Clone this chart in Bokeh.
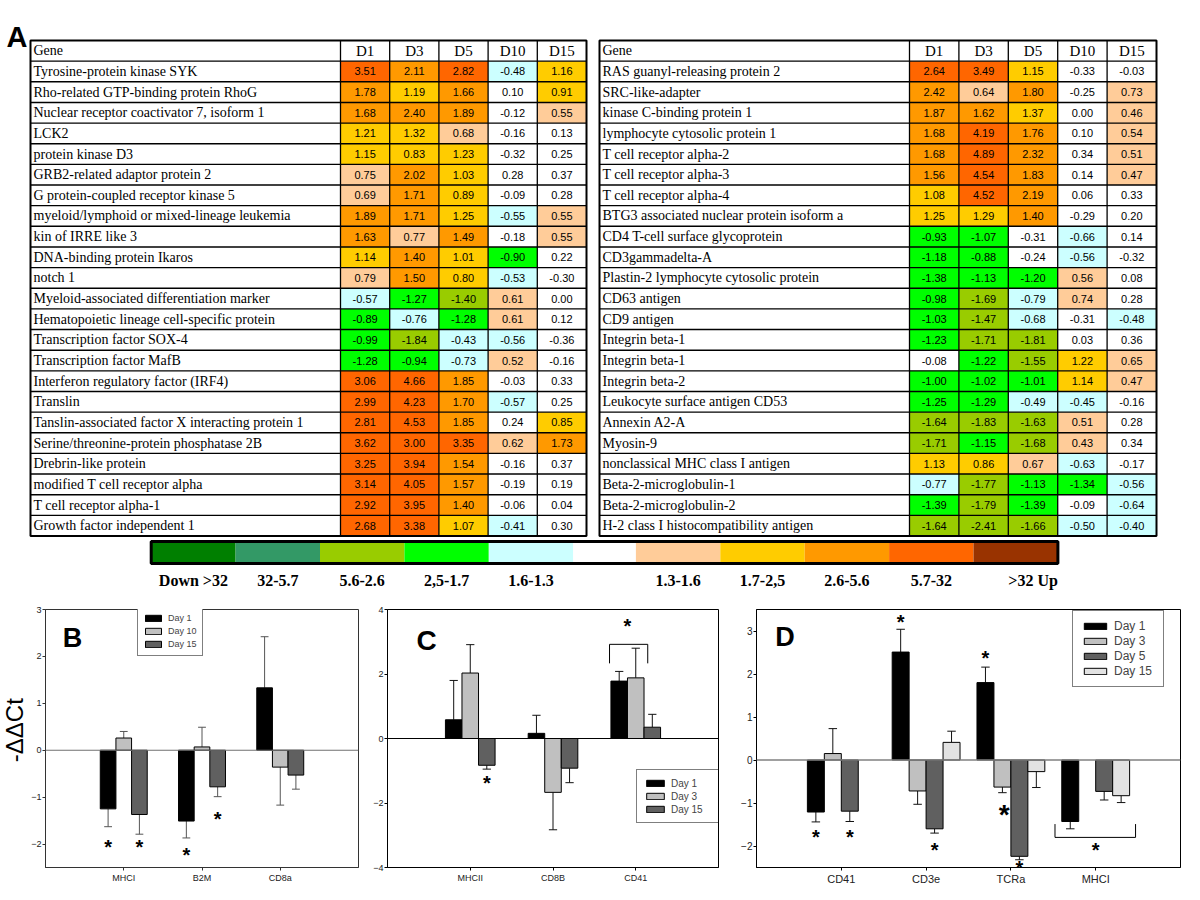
import math
from bokeh.plotting import figure
from bokeh.models import (Range1d, ColumnDataSource, FixedTicker, Span, Legend,
                          LegendItem, Label)
from bokeh.layouts import column, row
from bokeh.embed import file_html
from bokeh.resources import INLINE
from bokeh.core.properties import value

# ---------------- Panel A data ----------------
days_a = ["D1", "D3", "D5", "D10", "D15"]

genes_left = [
    "Tyrosine-protein kinase SYK",
    "Rho-related GTP-binding protein RhoG",
    "Nuclear receptor coactivator 7, isoform 1",
    "LCK2",
    "protein kinase D3",
    "GRB2-related adaptor protein 2",
    "G protein-coupled receptor kinase 5",
    "myeloid/lymphoid or mixed-lineage leukemia",
    "kin of IRRE like 3",
    "DNA-binding protein Ikaros",
    "notch 1",
    "Myeloid-associated differentiation marker",
    "Hematopoietic lineage cell-specific protein",
    "Transcription factor SOX-4",
    "Transcription factor MafB",
    "Interferon regulatory factor (IRF4)",
    "Translin",
    "Tanslin-associated factor X interacting protein 1",
    "Serine/threonine-protein phosphatase 2B",
    "Drebrin-like protein",
    "modified T cell receptor alpha",
    "T cell receptor alpha-1",
    "Growth factor independent 1",
]
d1_left = [3.51, 1.78, 1.68, 1.21, 1.15, 0.75, 0.69, 1.89, 1.63, 1.14, 0.79, -0.57,
           -0.89, -0.99, -1.28, 3.06, 2.99, 2.81, 3.62, 3.25, 3.14, 2.92, 2.68]
d3_left = [2.11, 1.19, 2.40, 1.32, 0.83, 2.02, 1.71, 1.71, 0.77, 1.40, 1.50, -1.27,
           -0.76, -1.84, -0.94, 4.66, 4.23, 4.53, 3.00, 3.94, 4.05, 3.95, 3.38]
d5_left = [2.82, 1.66, 1.89, 0.68, 1.23, 1.03, 0.89, 1.25, 1.49, 1.01, 0.80, -1.40,
           -1.28, -0.43, -0.73, 1.85, 1.70, 1.85, 3.35, 1.54, 1.57, 1.40, 1.07]
d10_left = [-0.48, 0.10, -0.12, -0.16, -0.32, 0.28, -0.09, -0.55, -0.18, -0.90, -0.53, 0.61,
            0.61, -0.56, 0.52, -0.03, -0.57, 0.24, 0.62, -0.16, -0.19, -0.06, -0.41]
d15_left = [1.16, 0.91, 0.55, 0.13, 0.25, 0.37, 0.28, 0.55, 0.55, 0.22, -0.30, 0.00,
            0.12, -0.36, -0.16, 0.33, 0.25, 0.85, 1.73, 0.37, 0.19, 0.04, 0.30]

genes_right = [
    "RAS guanyl-releasing protein 2",
    "SRC-like-adapter",
    "kinase C-binding protein 1",
    "lymphocyte cytosolic protein 1",
    "T cell receptor alpha-2",
    "T cell receptor alpha-3",
    "T cell receptor alpha-4",
    "BTG3 associated nuclear protein isoform a",
    "CD4 T-cell surface glycoprotein",
    "CD3gammadelta-A",
    "Plastin-2 lymphocyte cytosolic protein",
    "CD63 antigen",
    "CD9 antigen",
    "Integrin beta-1",
    "Integrin beta-1",
    "Integrin beta-2",
    "Leukocyte surface antigen CD53",
    "Annexin A2-A",
    "Myosin-9",
    "nonclassical MHC class I antigen",
    "Beta-2-microglobulin-1",
    "Beta-2-microglobulin-2",
    "H-2 class I histocompatibility antigen",
]
d1_right = [2.64, 2.42, 1.87, 1.68, 1.68, 1.56, 1.08, 1.25, -0.93, -1.18, -1.38, -0.98,
            -1.03, -1.23, -0.08, -1.00, -1.25, -1.64, -1.71, 1.13, -0.77, -1.39, -1.64]
d3_right = [3.49, 0.64, 1.62, 4.19, 4.89, 4.54, 4.52, 1.29, -1.07, -0.88, -1.13, -1.69,
            -1.47, -1.71, -1.22, -1.02, -1.29, -1.83, -1.15, 0.86, -1.77, -1.79, -2.41]
d5_right = [1.15, 1.80, 1.37, 1.76, 2.32, 1.83, 2.19, 1.40, -0.31, -0.24, -1.20, -0.79,
            -0.68, -1.81, -1.55, -1.01, -0.49, -1.63, -1.68, 0.67, -1.13, -1.39, -1.66]
d10_right = [-0.33, -0.25, 0.00, 0.10, 0.34, 0.14, 0.06, -0.29, -0.66, -0.56, 0.56, 0.74,
             -0.31, 0.03, 1.22, 1.14, -0.45, 0.51, 0.43, -0.63, -1.34, -0.09, -0.50]
d15_right = [-0.03, 0.73, 0.46, 0.54, 0.51, 0.47, 0.33, 0.20, 0.14, -0.32, 0.08, 0.28,
             -0.48, 0.36, 0.65, 0.47, -0.16, 0.28, 0.34, -0.17, -0.56, -0.64, -0.40]

legend_labels = ["Down >32", "32-5.7", "5.6-2.6", "2,5-1.7", "1.6-1.3", "",
                 "1.3-1.6", "1.7-2,5", "2.6-5.6", "5.7-32", ">32 Up"]
legend_colors = ["#007F00", "#339966", "#99CC00", "#00FF00", "#CCFFFF", "#FFFFFF",
                 "#FFCC99", "#FFCC00", "#FF9900", "#FF6600", "#993300"]

# ---------------- Panel B data ----------------
cats_b = ["MHCI", "B2M", "CD8a"]
days_b = ["Day 1", "Day 10", "Day 15"]
day1_b = [-1.25, -1.51, 1.33]
day10_b = [0.26, 0.07, -0.36]
day15_b = [-1.37, -0.78, -0.53]
err1_b = [0.38, 0.36, 1.09]
err10_b = [0.14, 0.42, 0.81]
err15_b = [0.42, 0.21, 0.30]
star_cat_b = [0, 0, 1, 1]
star_day_b = [0, 2, 0, 2]
star_y_b = [-2.0, -2.0, -2.18, -1.41]

# ---------------- Panel C data ----------------
cats_c = ["MHCII", "CD8B", "CD41"]
days_c = ["Day 1", "Day 3", "Day 15"]
day1_c = [0.58, 0.16, 1.78]
day3_c = [2.03, -1.67, 1.88]
day15_c = [-0.83, -0.92, 0.35]
err1_c = [1.22, 0.56, 0.30]
err3_c = [0.88, 1.16, 0.92]
err15_c = [0.12, 0.45, 0.40]
star_cat_c = [0, 2]
star_off_c = [0.2, -0.1]
star_y_c = [-1.3, 3.58]
bracket_c = dict(cat=2, x_from=-0.317, x_to=0.145, y_bar=2.92, y_end=2.33)

# ---------------- Panel D data ----------------
nan = float("nan")
cats_d = ["CD41", "CD3e", "TCRa", "MHCI"]
days_d = ["Day 1", "Day 3", "Day 5", "Day 15"]
day1_d = [-1.21, 2.51, 1.80, -1.43]
day3_d = [0.15, -0.72, -0.63, nan]
day5_d = [-1.19, -1.60, -2.24, -0.73]
day15_d = [nan, 0.41, -0.27, -0.83]
err1_d = [0.23, 0.53, 0.36, 0.17]
err3_d = [0.58, 0.31, 0.13, nan]
err5_d = [0.24, 0.10, 0.08, 0.20]
err15_d = [nan, 0.26, 0.37, 0.16]
star_cat_d = [0, 0, 1, 1, 2, 2, 3]
star_off_d = [-0.3, 0.1, -0.3, 0.1, -0.3, 0.1, 0.0]
star_y_d = [-1.72, -1.72, 3.28, -2.03, 2.43, -2.45, -2.03]
bigstar_d = dict(cat=2, off=-0.08, y=-1.18)
bracket_d = dict(cat=3, x_from=-0.48, x_to=0.47, y_bar=-1.8, y_end=-1.49)

SANS = "Liberation Sans"
SERIF = "Liberation Serif"


def cell_color(v):
    a = abs(v)
    if a < 0.38:
        return "#FFFFFF"
    if v > 0:
        if a < 0.795:
            return "#FFCC99"
        if a < 1.395:
            return "#FFCC00"
        if a < 2.51:
            return "#FF9900"
        if a < 5.0:
            return "#FF6600"
        return "#993300"
    if a < 0.795:
        return "#CCFFFF"
    if a < 1.395:
        return "#00FF00"
    if a < 2.51:
        return "#99CC00"
    if a < 5.0:
        return "#339966"
    return "#007F00"


# ---------------- Top figure (panel A) ----------------
top = figure(width=1200, height=590, x_range=Range1d(0, 1200), y_range=Range1d(590, 0),
             output_backend="svg", toolbar_location=None, min_border=0, title=None,
             x_axis_location=None, y_axis_location=None)
top.grid.visible = False
top.outline_line_color = None
top.background_fill_color = "white"
top.border_fill_color = "white"

ROW_TOP = 40.0
ROW_H = 495.5 / 24
GENE_W = 310.0


def draw_table(p, x0, col_w, genes, cols):
    n = len(genes)
    xs, ys, cs, ts = [], [], [], []
    for j, col in enumerate(cols):
        for i, v in enumerate(col):
            xs.append(x0 + GENE_W + (j + 0.5) * col_w)
            ys.append(ROW_TOP + (i + 1.5) * ROW_H)
            cs.append(cell_color(v))
            ts.append(f"{v:.2f}")
    src = ColumnDataSource(dict(x=xs, y=ys, c=cs, t=ts))
    p.rect(x="x", y="y", width=col_w, height=ROW_H, fill_color="c", line_color=None, source=src)
    p.text(x="x", y="y", text="t", source=src, text_font=value(SANS), text_font_size="11px",
           text_align="center", text_baseline="middle", text_color="black")
    gy = [ROW_TOP + (i + 1.5) * ROW_H for i in range(n)]
    p.text(x=[x0 + 3] * n, y=gy, text=genes, text_font=value(SERIF), text_font_size="14px",
           text_align="left", text_baseline="middle", text_color="black")
    hy = ROW_TOP + 0.5 * ROW_H
    p.text(x=[x0 + 3], y=[hy], text=["Gene"], text_font=value(SERIF), text_font_size="14px",
           text_align="left", text_baseline="middle", text_color="black")
    p.text(x=[x0 + GENE_W + (j + 0.5) * col_w for j in range(len(days_a))], y=[hy] * len(days_a),
           text=days_a, text_font=value(SERIF), text_font_size="15px",
           text_align="center", text_baseline="middle", text_color="black")
    x1 = x0 + GENE_W + len(cols) * col_w
    y1 = ROW_TOP + (n + 1) * ROW_H
    lines_y = [ROW_TOP + k * ROW_H for k in range(1, n + 1)]
    p.segment(x0=[x0] * len(lines_y), y0=lines_y, x1=[x1] * len(lines_y), y1=lines_y,
              line_color="black", line_width=1.4)
    lines_x = [x0 + GENE_W + j * col_w for j in range(len(cols))]
    p.segment(x0=lines_x, y0=[ROW_TOP] * len(lines_x), x1=lines_x, y1=[y1] * len(lines_x),
              line_color="black", line_width=1.3)
    p.rect(x=[(x0 + x1) / 2], y=[(ROW_TOP + y1) / 2], width=[x1 - x0], height=[y1 - ROW_TOP],
           fill_color=None, line_color="black", line_width=2)


draw_table(top, 30.0, 49.2, genes_left, [d1_left, d3_left, d5_left, d10_left, d15_left])
draw_table(top, 599.0, 49.4, genes_right, [d1_right, d3_right, d5_right, d10_right, d15_right])

top.text(x=[6], y=[36], text=["A"], text_font=value(SANS), text_font_style="bold",
         text_font_size="29px", text_baseline="alphabetic", text_align="left", text_color="black")

# colour key
leg_w = [84.4] * 5 + [62.7] + [84.4] * 5
edges = [150.7]
for w in leg_w:
    edges.append(edges[-1] + w)
centers = [(edges[i] + edges[i + 1]) / 2 for i in range(len(leg_w))]
top.rect(x=centers, y=[552] * len(centers), width=leg_w, height=[22] * len(centers),
         fill_color=legend_colors, line_color=None)
top.rect(x=[(edges[0] + edges[-1]) / 2], y=[552], width=[edges[-1] - edges[0]], height=[22],
         fill_color=None, line_color="black", line_width=3)
top.text(x=centers[:-1], y=[580] * (len(centers) - 1), text=legend_labels[:-1],
         text_font=value(SERIF), text_font_style="bold", text_font_size="16px",
         text_align="center", text_baseline="alphabetic", text_color="black")
top.text(x=[edges[-1]], y=[580], text=legend_labels[-1:],
         text_font=value(SERIF), text_font_style="bold", text_font_size="16px",
         text_align="right", text_baseline="alphabetic", text_color="black")


# ---------------- Bar panels ----------------
def make_panel(width, height, borders, cats, yr, yticks, ytick_fs, xtick_fs, outline):
    p = figure(width=width, height=height, x_range=Range1d(0, len(cats) + 1),
               y_range=Range1d(*yr), output_backend="svg", toolbar_location=None, title=None,
               min_border_left=borders[0], min_border_right=borders[1],
               min_border_top=borders[2], min_border_bottom=borders[3])
    p.grid.visible = False
    p.outline_line_color = outline
    p.outline_line_width = 1
    p.background_fill_color = "white"
    p.border_fill_color = "white"
    p.xaxis.ticker = FixedTicker(ticks=list(range(1, len(cats) + 1)))
    p.xaxis.major_label_overrides = {i + 1: c for i, c in enumerate(cats)}
    p.yaxis.ticker = FixedTicker(ticks=yticks)
    for ax in (p.xaxis[0], p.yaxis[0]):
        ax.minor_tick_line_color = None
        ax.major_tick_in = 0
        ax.major_tick_out = 3
        ax.major_label_text_font = SANS
        ax.major_label_text_color = "#222222"
        ax.axis_line_color = outline
        ax.major_tick_line_color = outline
    p.xaxis.major_label_text_font_size = xtick_fs
    p.yaxis.major_label_text_font_size = ytick_fs
    p.xaxis.major_label_standoff = 2
    p.yaxis.major_label_standoff = 1
    return p


def draw_groups(p, series, errs, colors, bar_w, err_color):
    nd = len(series)
    rends = []
    for di, (vals, ers, col) in enumerate(zip(series, errs, colors)):
        off = (di - (nd - 1) / 2) * bar_w
        xs, vs, ends = [], [], []
        for ci, (v, e) in enumerate(zip(vals, ers)):
            if math.isnan(v):
                continue
            xs.append(ci + 1 + off)
            vs.append(v)
            ends.append(v + e if v >= 0 else v - e)
        cap = bar_w * 0.25
        src = ColumnDataSource(dict(x=xs, top=vs, end=ends,
                                    xl=[x - cap for x in xs], xr=[x + cap for x in xs]))
        p.segment(x0="x", y0="top", x1="x", y1="end", source=src, line_color=err_color, line_width=1)
        p.segment(x0="xl", y0="end", x1="xr", y1="end", source=src, line_color=err_color, line_width=1)
        r = p.vbar(x="x", top="top", bottom=0, width=bar_w, source=src, fill_color=col,
                   line_color="black", line_width=1)
        rends.append(r)
    return rends


def add_stars(p, xs, ys, fs):
    p.text(x=xs, y=ys, text=["*"] * len(xs), text_font=value(SANS), text_font_style="bold",
           text_font_size=f"{fs}px", text_align="center", text_baseline="alphabetic",
           y_offset=0.13 * fs, text_color="black")


def add_bracket(p, br):
    c = br["cat"] + 1
    xa, xb = c + br["x_from"], c + br["x_to"]
    p.multi_line(xs=[[xa, xa, xb, xb]], ys=[[br["y_end"], br["y_bar"], br["y_bar"], br["y_end"]]],
                 line_color="black", line_width=1)


def add_legend(p, rends, names, loc, fs, gw, lw, pad):
    leg = Legend(items=[LegendItem(label=n, renderers=[r]) for n, r in zip(names, rends)],
                 location=loc, orientation="vertical")
    leg.label_text_font = SANS
    leg.label_text_font_size = fs
    leg.glyph_width = gw
    leg.glyph_height = 8
    leg.label_height = 12
    leg.label_width = lw
    leg.label_standoff = 5
    leg.spacing = 1
    leg.padding = pad
    leg.margin = 0
    leg.border_line_color = "black"
    leg.border_line_width = 1
    leg.background_fill_color = "white"
    leg.background_fill_alpha = 1.0
    p.add_layout(leg)


BLACK, LGRAY, DGRAY, VLGRAY = "#000000", "#C0C0C0", "#606060", "#E2E2E2"
ROW_H_PX = 310
STRIP_W = 28

# y-axis title for panel B (separate narrow strip)
ylab = figure(width=STRIP_W, height=ROW_H_PX, x_range=Range1d(0, STRIP_W),
              y_range=Range1d(ROW_H_PX, 0), output_backend="svg", toolbar_location=None,
              min_border=0, title=None, x_axis_location=None, y_axis_location=None)
ylab.grid.visible = False
ylab.outline_line_color = None
ylab.text(x=[STRIP_W / 2], y=[145], text=["-ΔΔCt"], angle=math.pi / 2, text_font=value(SANS),
          text_font_size="24px", text_align="center", text_baseline="middle", text_color="black")

# Panel B
pb = make_panel(370 - STRIP_W, ROW_H_PX, (6, 12, 6, 30), cats_b, (-2.5, 3.0),
                [-2, -1, 0, 1, 2, 3], "9px", "9px", "#333333")
pb.add_layout(Span(location=0, dimension="width", line_color="#707070", line_width=1.2))
rb = draw_groups(pb, [day1_b, day10_b, day15_b], [err1_b, err10_b, err15_b],
                 [BLACK, LGRAY, DGRAY], 0.2, "#555555")
add_stars(pb, [c + 1 + (d - 1) * 0.2 for c, d in zip(star_cat_b, star_day_b)], star_y_b, 20)
add_legend(pb, rb, days_b, (92, 211), "9px", 20, 29, 5)
pb.add_layout(Label(x=0.22, y=2.4, text="B", text_font=SANS, text_font_style="bold",
                    text_font_size="27px", text_baseline="alphabetic", text_color="black"))

# Panel C
pc = make_panel(358, ROW_H_PX, (16, 10, 13, 33), cats_c, (-4, 4), [-4, -2, 0, 2, 4],
                "9px", "9px", "black")
pc.add_layout(Span(location=0, dimension="width", line_color="black", line_width=1))
rc = draw_groups(pc, [day1_c, day3_c, day15_c], [err1_c, err3_c, err15_c],
                 [BLACK, LGRAY, DGRAY], 0.2, "#111111")
add_stars(pc, [c + 1 + o for c, o in zip(star_cat_c, star_off_c)], star_y_c, 20)
add_bracket(pc, bracket_c)
add_legend(pc, rc, days_c, (249, 44), "10px", 22, 40, 7)
pc.add_layout(Label(x=0.35, y=3.03, text="C", text_font=SANS, text_font_style="bold",
                    text_font_size="28px", text_baseline="alphabetic", text_color="black"))

# Panel D
pd_ = make_panel(472, ROW_H_PX, (28, 20, 19, 32), cats_d, (-2.5, 3.5), [-2, -1, 0, 1, 2, 3],
                 "10px", "11px", "black")
pd_.add_layout(Span(location=0, dimension="width", line_color="#808080", line_width=1.5))
rd = draw_groups(pd_, [day1_d, day3_d, day5_d, day15_d], [err1_d, err3_d, err5_d, err15_d],
                 [BLACK, LGRAY, DGRAY, VLGRAY], 0.2, "#111111")
add_stars(pd_, [c + 1 + o for c, o in zip(star_cat_d, star_off_d)], star_y_d, 20)
add_stars(pd_, [bigstar_d["cat"] + 1 + bigstar_d["off"]], [bigstar_d["y"]], 28)
add_bracket(pd_, bracket_d)
add_legend(pd_, rd, days_d, (316, 180), "12px", 28, 41, 8)
pd_.add_layout(Label(x=0.22, y=2.85, text="D", text_font=SANS, text_font_style="bold",
                     text_font_size="27px", text_baseline="alphabetic", text_color="black"))

layout = column(top, row(ylab, pb, pc, pd_))
open("out.html", "w").write(file_html(layout, INLINE))
